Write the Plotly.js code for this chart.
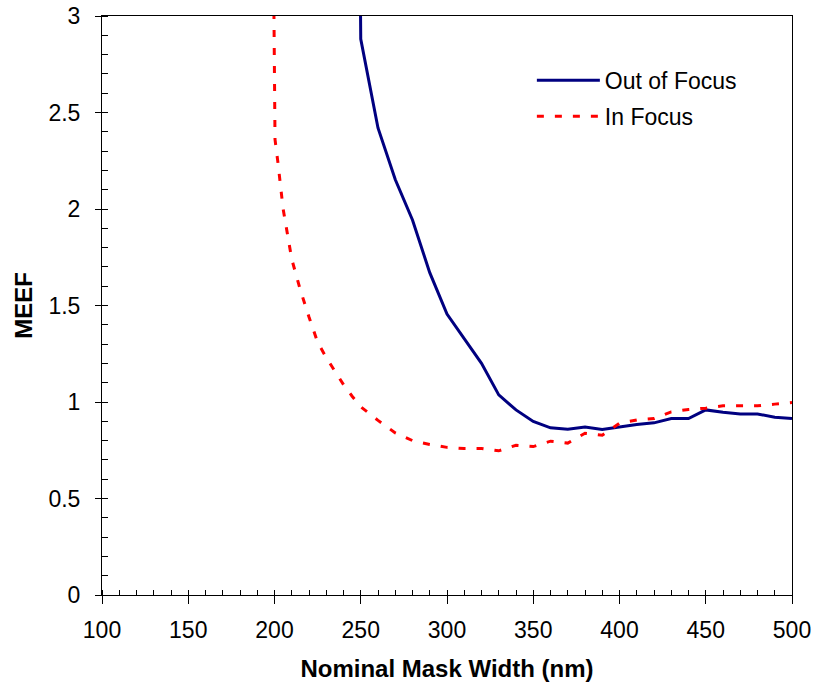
<!DOCTYPE html>
<html>
<head>
<meta charset="utf-8">
<script src="https://cdn.plot.ly/plotly-3.0.1.min.js"></script>
<style>html,body{margin:0;padding:0;background:#fff;}#chart{width:817px;height:688px;}</style>
</head>
<body>
<div id="chart"></div>
<script>
// Out of Focus series
const outX = [249.5, 250, 260, 270, 280, 290, 300, 310, 320, 330, 340, 350, 360, 370, 380, 390, 400, 410, 420, 430, 440, 450, 460, 470, 480, 490, 500];
const outY = [3.4, 2.88, 2.42, 2.153, 1.943, 1.67, 1.456, 1.33, 1.20, 1.037, 0.959, 0.899, 0.866, 0.859, 0.87, 0.857, 0.87, 0.883, 0.892, 0.914, 0.914, 0.959, 0.947, 0.938, 0.938, 0.921, 0.914];
// In Focus series
const inX = [199.4, 200.3, 202, 205, 210, 215, 220, 225, 230, 235, 240, 245, 250, 260, 270, 280, 290, 300, 310, 320, 330, 340, 350, 360, 370, 380, 390, 400, 410, 420, 430, 440, 450, 460, 470, 480, 490, 500];
const inY = [3.3, 2.36, 2.24, 2.0, 1.74, 1.58, 1.44, 1.31, 1.23, 1.16, 1.09, 1.03, 0.975, 0.905, 0.84, 0.80, 0.78, 0.765, 0.759, 0.759, 0.747, 0.776, 0.769, 0.797, 0.787, 0.838, 0.828, 0.89, 0.907, 0.914, 0.949, 0.961, 0.968, 0.98, 0.98, 0.98, 0.989, 0.997];
const seriesNames = ["Out of Focus", "In Focus"];
const xTicks = [100, 150, 200, 250, 300, 350, 400, 450, 500];
const yTicks = [0, 0.5, 1, 1.5, 2, 2.5, 3];

const FONT = "Liberation Sans, Arial, sans-serif";

const traces = [
  {x: outX, y: outY, name: seriesNames[0], type: 'scatter', mode: 'lines', legendgroup: 'a',
   line: {color: '#000080', width: 3}},
  {x: inX, y: inY, name: seriesNames[1], type: 'scatter', mode: 'lines', legendgroup: 'b',
   line: {color: '#FF0000', width: 3, dash: '7px,11px'}}
];

const layout = {
  width: 817, height: 688,
  margin: {l: 102, r: 25, t: 16, b: 93},
  paper_bgcolor: '#fff', plot_bgcolor: '#fff',
  font: {family: FONT, size: 23, color: '#000'},
  showlegend: true,
  legend: {x: 0.623, y: 0.926, xanchor: 'left', yanchor: 'top',
           font: {family: FONT, size: 23, color: '#000'},
           bgcolor: 'rgba(0,0,0,0)', itemwidth: 63, tracegroupgap: 3},
  xaxis: {
    range: [100, 500], tickvals: xTicks, ticktext: xTicks.map(String),
    ticks: 'outside', ticklen: 8, tickwidth: 1, tickcolor: '#000',
    minor: {dtick: 10, ticks: 'inside', ticklen: 5, tickwidth: 1, tickcolor: '#000', showgrid: false},
    showline: true, linecolor: '#000', linewidth: 1, mirror: true,
    showgrid: false, zeroline: false, ticklabelstandoff: 6,
    tickfont: {family: FONT, size: 23, color: '#000'},
    title: {text: '<b>Nominal Mask Width (nm)</b>', font: {family: FONT, size: 24, color: '#000'}, standoff: 18}
  },
  xaxis2: {
    overlaying: 'x', anchor: 'y', side: 'bottom', range: [100, 500],
    tickvals: xTicks, ticks: 'inside', ticklen: 6, tickwidth: 1, tickcolor: '#000',
    showticklabels: false, showgrid: false, zeroline: false, showline: false
  },
  yaxis: {
    range: [0, 3], tickvals: yTicks, ticktext: yTicks.map(String),
    ticks: 'outside', ticklen: 6, tickwidth: 1, tickcolor: '#000',
    minor: {dtick: 0.1, ticks: 'inside', ticklen: 6, tickwidth: 1, tickcolor: '#000', showgrid: false},
    showline: true, linecolor: '#000', linewidth: 1, mirror: true,
    showgrid: false, zeroline: false, ticklabelstandoff: 10,
    tickfont: {family: FONT, size: 23, color: '#000'},
    title: {text: '<b>MEEF</b>', font: {family: FONT, size: 24, color: '#000'}, standoff: 9}
  }
};

Plotly.newPlot('chart', traces, layout, {displayModeBar: false, staticPlot: true});
</script>
</body>
</html>
